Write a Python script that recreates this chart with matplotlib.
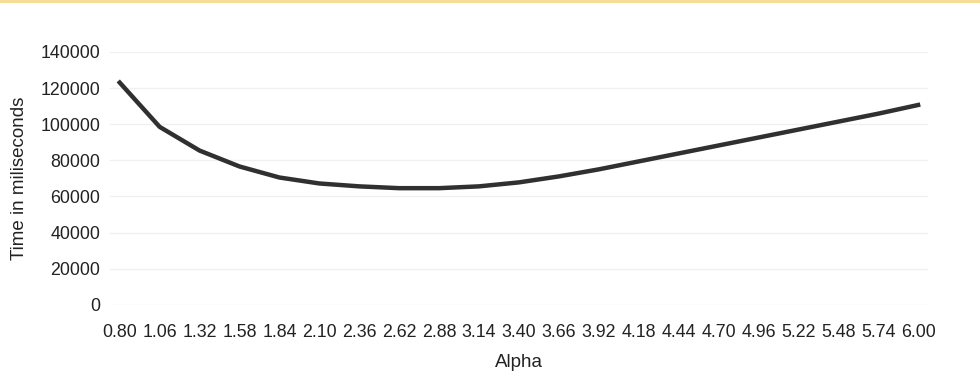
import matplotlib
matplotlib.use("Agg")
import matplotlib.pyplot as plt
from matplotlib.lines import Line2D

alpha_labels = ["0.80", "1.06", "1.32", "1.58", "1.84", "2.10", "2.36", "2.62", "2.88", "3.14",
                "3.40", "3.66", "3.92", "4.18", "4.44", "4.70", "4.96", "5.22", "5.48", "5.74", "6.00"]
time_ms = [123000, 98500, 85400, 76600, 70500, 67200, 65600, 64600, 64600, 65600,
           67800, 71100, 75000, 79400, 83800, 88200, 92600, 97000, 101400, 105800, 110600]
y_ticks = [0, 20000, 40000, 60000, 80000, 100000, 120000, 140000]

plt.rcParams["font.family"] = ["Liberation Sans", "DejaVu Sans"]

fig = plt.figure(figsize=(9.8, 3.87), dpi=100)
ax = fig.add_axes([0.112, 0.212, 0.835, 0.654])

x = list(range(len(alpha_labels)))
ax.plot(x, time_ms, color="#303030", linewidth=3.2, solid_joinstyle="round")

ax.set_xlim(-0.25, len(alpha_labels) - 0.75)
ax.set_ylim(0, 140000)
ax.set_xticks(x)
ax.set_xticklabels(alpha_labels)
ax.set_yticks(y_ticks)
ax.set_yticklabels([str(v) for v in y_ticks])
ax.tick_params(axis="both", length=0, labelsize=12.8, colors="#222222")
ax.tick_params(axis="x", pad=14)
ax.tick_params(axis="y", pad=7)
for s in ax.spines.values():
    s.set_visible(False)
ax.grid(axis="y", color="#f0f0f0", linewidth=1)
ax.set_axisbelow(True)

ax.set_xlabel("Alpha", fontsize=13.5, color="#222222", labelpad=9)
ax.set_ylabel("Time in miliseconds", fontsize=13.5, color="#222222", labelpad=9)

fig.add_artist(Line2D([0, 1], [0.997, 0.997], transform=fig.transFigure, color="#f7dc8c", linewidth=2))

fig.savefig("out.png", dpi=100)
